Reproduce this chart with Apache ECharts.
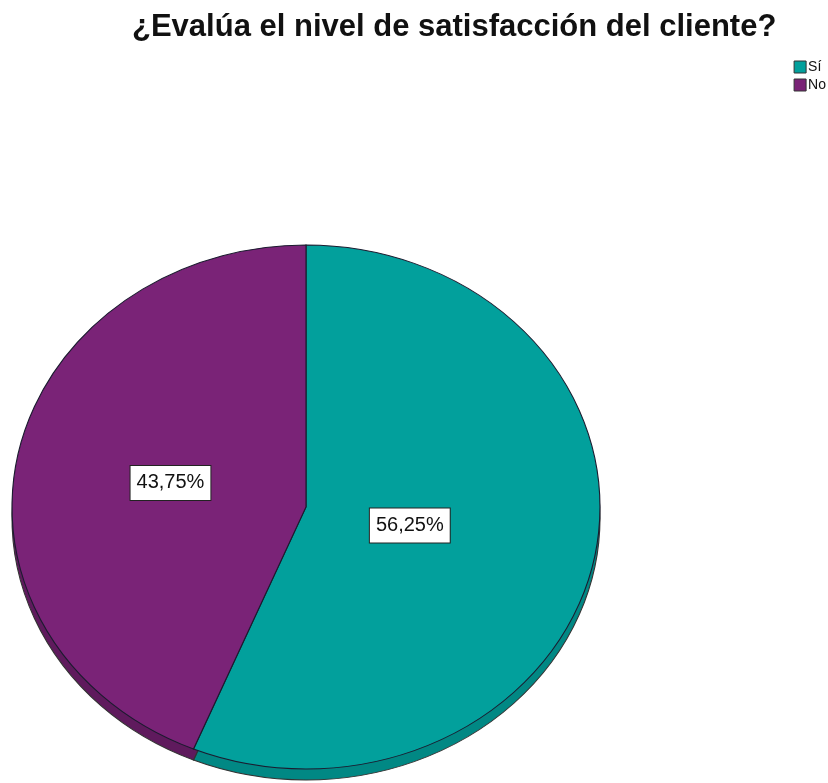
<!DOCTYPE html>
<html>
<head>
<meta charset="utf-8">
<script src="https://cdn.jsdelivr.net/npm/echarts@6/dist/echarts.min.js"></script>
<style>
  html, body { margin: 0; padding: 0; background: #fff; }
  #chart { width: 828px; height: 783px; }
</style>
</head>
<body>
<div id="chart"></div>
<script>
const categories = ['Sí', 'No']
const percentages = [56.25, 43.75]
const labelTexts = ['56,25%', '43,75%']

const topColors = ['#02a09c', '#7a2377']
const sideColors = ['#018884', '#5f1a5d']

// ellipse geometry of the 3d pie (pixels)
const cx = 306
const cy = 507
const rx = 294
const ry = 262
const depth = 11
const labelRatio = [0.36, 0.47]

const chart = echarts.init(document.getElementById('chart'))

function sliceAngles(i) {
  const total = percentages.reduce((a, b) => a + b, 0)
  let start = 0
  for (let k = 0; k < i; k++) start += percentages[k]
  const a0 = -Math.PI / 2 + start / total * Math.PI * 2
  const a1 = a0 + percentages[i] / total * Math.PI * 2
  return [a0, a1]
}

function sector(i, offset, fill, stroke) {
  const a = sliceAngles(i)
  return {
    type: 'sector',
    shape: { cx: cx, cy: cy + offset, r: ry, r0: 0, startAngle: a[0], endAngle: a[1], clockwise: true },
    scaleX: rx / ry,
    originX: cx,
    originY: cy + offset,
    style: { fill: fill, stroke: stroke, lineWidth: 1, strokeNoScale: true }
  }
}

// lower rim of the pie
const sideSeries = {
  type: 'custom',
  coordinateSystem: 'none',
  silent: true,
  z: 1,
  data: percentages.map((v, i) => [v, i]),
  renderItem: function(params, api) {
    const i = api.value(1)
    return sector(i, depth, sideColors[i], '#333')
  }
}

const topSeries = categories.map((name, i) => ({
  type: 'custom',
  name: name,
  coordinateSystem: 'none',
  z: 3,
  itemStyle: { color: topColors[i] },
  data: [[percentages[i]]],
  renderItem: function(params, api) {
    const a = sliceAngles(i)
    const mid = (a[0] + a[1]) / 2
    return {
      type: 'group',
      children: [
        sector(i, 0, topColors[i], '#1b1b2f'),
        {
          type: 'text',
          x: cx + Math.cos(mid) * rx * labelRatio[i],
          y: cy + Math.sin(mid) * ry * labelRatio[i],
          z2: 10,
          style: {
            text: labelTexts[i],
            fontFamily: 'Liberation Sans, Arial, sans-serif',
            fontSize: 20,
            fill: '#111',
            align: 'center',
            verticalAlign: 'middle',
            backgroundColor: '#fff',
            borderColor: '#222',
            borderWidth: 1,
            padding: [8, 6, 6, 6]
          }
        }
      ]
    }
  }
}))

chart.setOption({
  animation: false,
  title: {
    text: '¿Evalúa el nivel de satisfacción del cliente?',
    left: 127,
    top: 7,
    textStyle: {
      fontFamily: 'Liberation Sans, Arial, sans-serif',
      fontSize: 31,
      fontWeight: 'bold',
      color: '#111'
    }
  },
  legend: {
    data: categories,
    orient: 'vertical',
    right: 2,
    top: 60,
    padding: 0,
    itemGap: 4,
    itemWidth: 12,
    itemHeight: 12,
    icon: 'rect',
    itemStyle: { borderColor: '#333', borderWidth: 1 },
    textStyle: { fontFamily: 'Liberation Sans, Arial, sans-serif', fontSize: 14, color: '#111', padding: [0, 0, 0, -3] },
    selectedMode: false
  },
  series: [sideSeries].concat(topSeries)
})
</script>
</body>
</html>
